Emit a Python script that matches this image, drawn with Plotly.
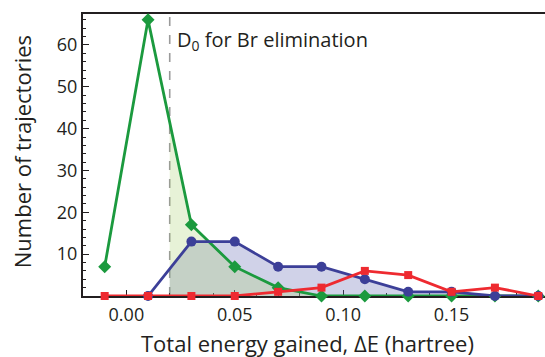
import numpy as np
import plotly.graph_objects as go

# Data
energy = [-0.01, 0.01, 0.03, 0.05, 0.07, 0.09, 0.11, 0.13, 0.15, 0.17, 0.19]
green_counts = [7, 66, 17, 7, 2, 0, 0, 0, 0, 0, 0]
blue_energy = [0.01, 0.03, 0.05, 0.07, 0.09, 0.11, 0.13, 0.15, 0.17, 0.19]
blue_counts = [0, 13, 13, 7, 7, 4, 1, 1, 0, 0]
red_counts = [0, 0, 0, 0, 1, 2, 6, 5, 1, 2, 0]
D0 = 0.02
x_ticks = [0.0, 0.05, 0.10, 0.15]
x_tick_labels = ["0.00", "0.05", "0.10", "0.15"]
y_ticks = [10, 20, 30, 40, 50, 60]

GREEN = "#1b9a3e"
BLUE = "#3c3f98"
RED = "#ee2a30"
FONT = "Open Sans"


def fill_from(xs, ys, x0):
    xs = np.asarray(xs, float)
    ys = np.asarray(ys, float)
    y0 = float(np.interp(x0, xs, ys))
    mask = xs > x0
    return [x0] + list(xs[mask]), [y0] + list(ys[mask])


fig = go.Figure()

bx, by = fill_from(blue_energy, blue_counts, D0)
fig.add_trace(go.Scatter(x=bx, y=by, mode="none", fill="tozeroy",
                         fillcolor="rgba(100,107,180,0.30)", hoverinfo="skip"))
gx, gy = fill_from(energy, green_counts, D0)
fig.add_trace(go.Scatter(x=gx, y=gy, mode="none", fill="tozeroy",
                         fillcolor="rgba(170,210,110,0.28)", hoverinfo="skip"))

fig.add_trace(go.Scatter(x=energy, y=green_counts, mode="lines+markers",
                         line=dict(color=GREEN, width=2.8),
                         marker=dict(symbol="diamond", size=10, color=GREEN),
                         cliponaxis=False))
fig.add_trace(go.Scatter(x=blue_energy, y=blue_counts, mode="lines+markers",
                         line=dict(color=BLUE, width=2.8),
                         marker=dict(symbol="circle", size=10, color=BLUE),
                         cliponaxis=False))
fig.add_trace(go.Scatter(x=energy, y=red_counts, mode="lines+markers",
                         line=dict(color=RED, width=2.8),
                         marker=dict(symbol="square", size=8, color=RED),
                         cliponaxis=False))

fig.add_shape(type="line", x0=D0, x1=D0, y0=0, y1=1, xref="x", yref="paper",
              line=dict(color="#9a9a9a", width=1.6, dash="dash"), layer="below")

fig.add_annotation(x=D0, y=0.905, xref="x", yref="paper",
                   text="D<sub>0</sub> for Br elimination", showarrow=False,
                   xanchor="left", yanchor="middle", xshift=5,
                   font=dict(family=FONT, size=20, color="#231f20"))

fig.add_annotation(x=0.487, y=-0.165, xref="paper", yref="paper",
                   text="Total energy gained, ΔE (hartree)", showarrow=False,
                   xanchor="center", yanchor="middle",
                   font=dict(family=FONT, size=22, color="#231f20"))
fig.add_annotation(x=-0.132, y=0.51, xref="paper", yref="paper",
                   text="Number of trajectories", showarrow=False, textangle=-90,
                   xanchor="center", yanchor="middle",
                   font=dict(family=FONT, size=22, color="#231f20"))

fig.update_layout(
    width=545, height=357,
    margin=dict(l=83, r=0, t=14, b=61),
    paper_bgcolor="white", plot_bgcolor="white",
    showlegend=False,
    font=dict(family=FONT, size=18, color="#231f20"),
    xaxis=dict(range=[-0.02, 0.1931], showgrid=False, zeroline=False,
               showline=True, linecolor="#231f20", linewidth=2, mirror=True,
               tickvals=x_ticks, ticktext=x_tick_labels,
               ticks="inside", ticklen=6, tickwidth=1.3, tickcolor="#231f20",
               minor=dict(dtick=0.01, tick0=0, ticks="inside", ticklen=3,
                          tickcolor="#231f20", tickwidth=1),
               layer="below traces", ticklabelstandoff=1),
    yaxis=dict(range=[0, 67.4], showgrid=False, zeroline=False,
               showline=True, linecolor="#231f20", linewidth=2,
               tickvals=y_ticks,
               ticks="inside", ticklen=6, tickwidth=1.3, tickcolor="#231f20",
               minor=dict(dtick=2, tick0=0, ticks="inside", ticklen=3,
                          tickcolor="#231f20", tickwidth=1),
               layer="below traces", ticklabelstandoff=0),
)

fig.write_html("out.html")
